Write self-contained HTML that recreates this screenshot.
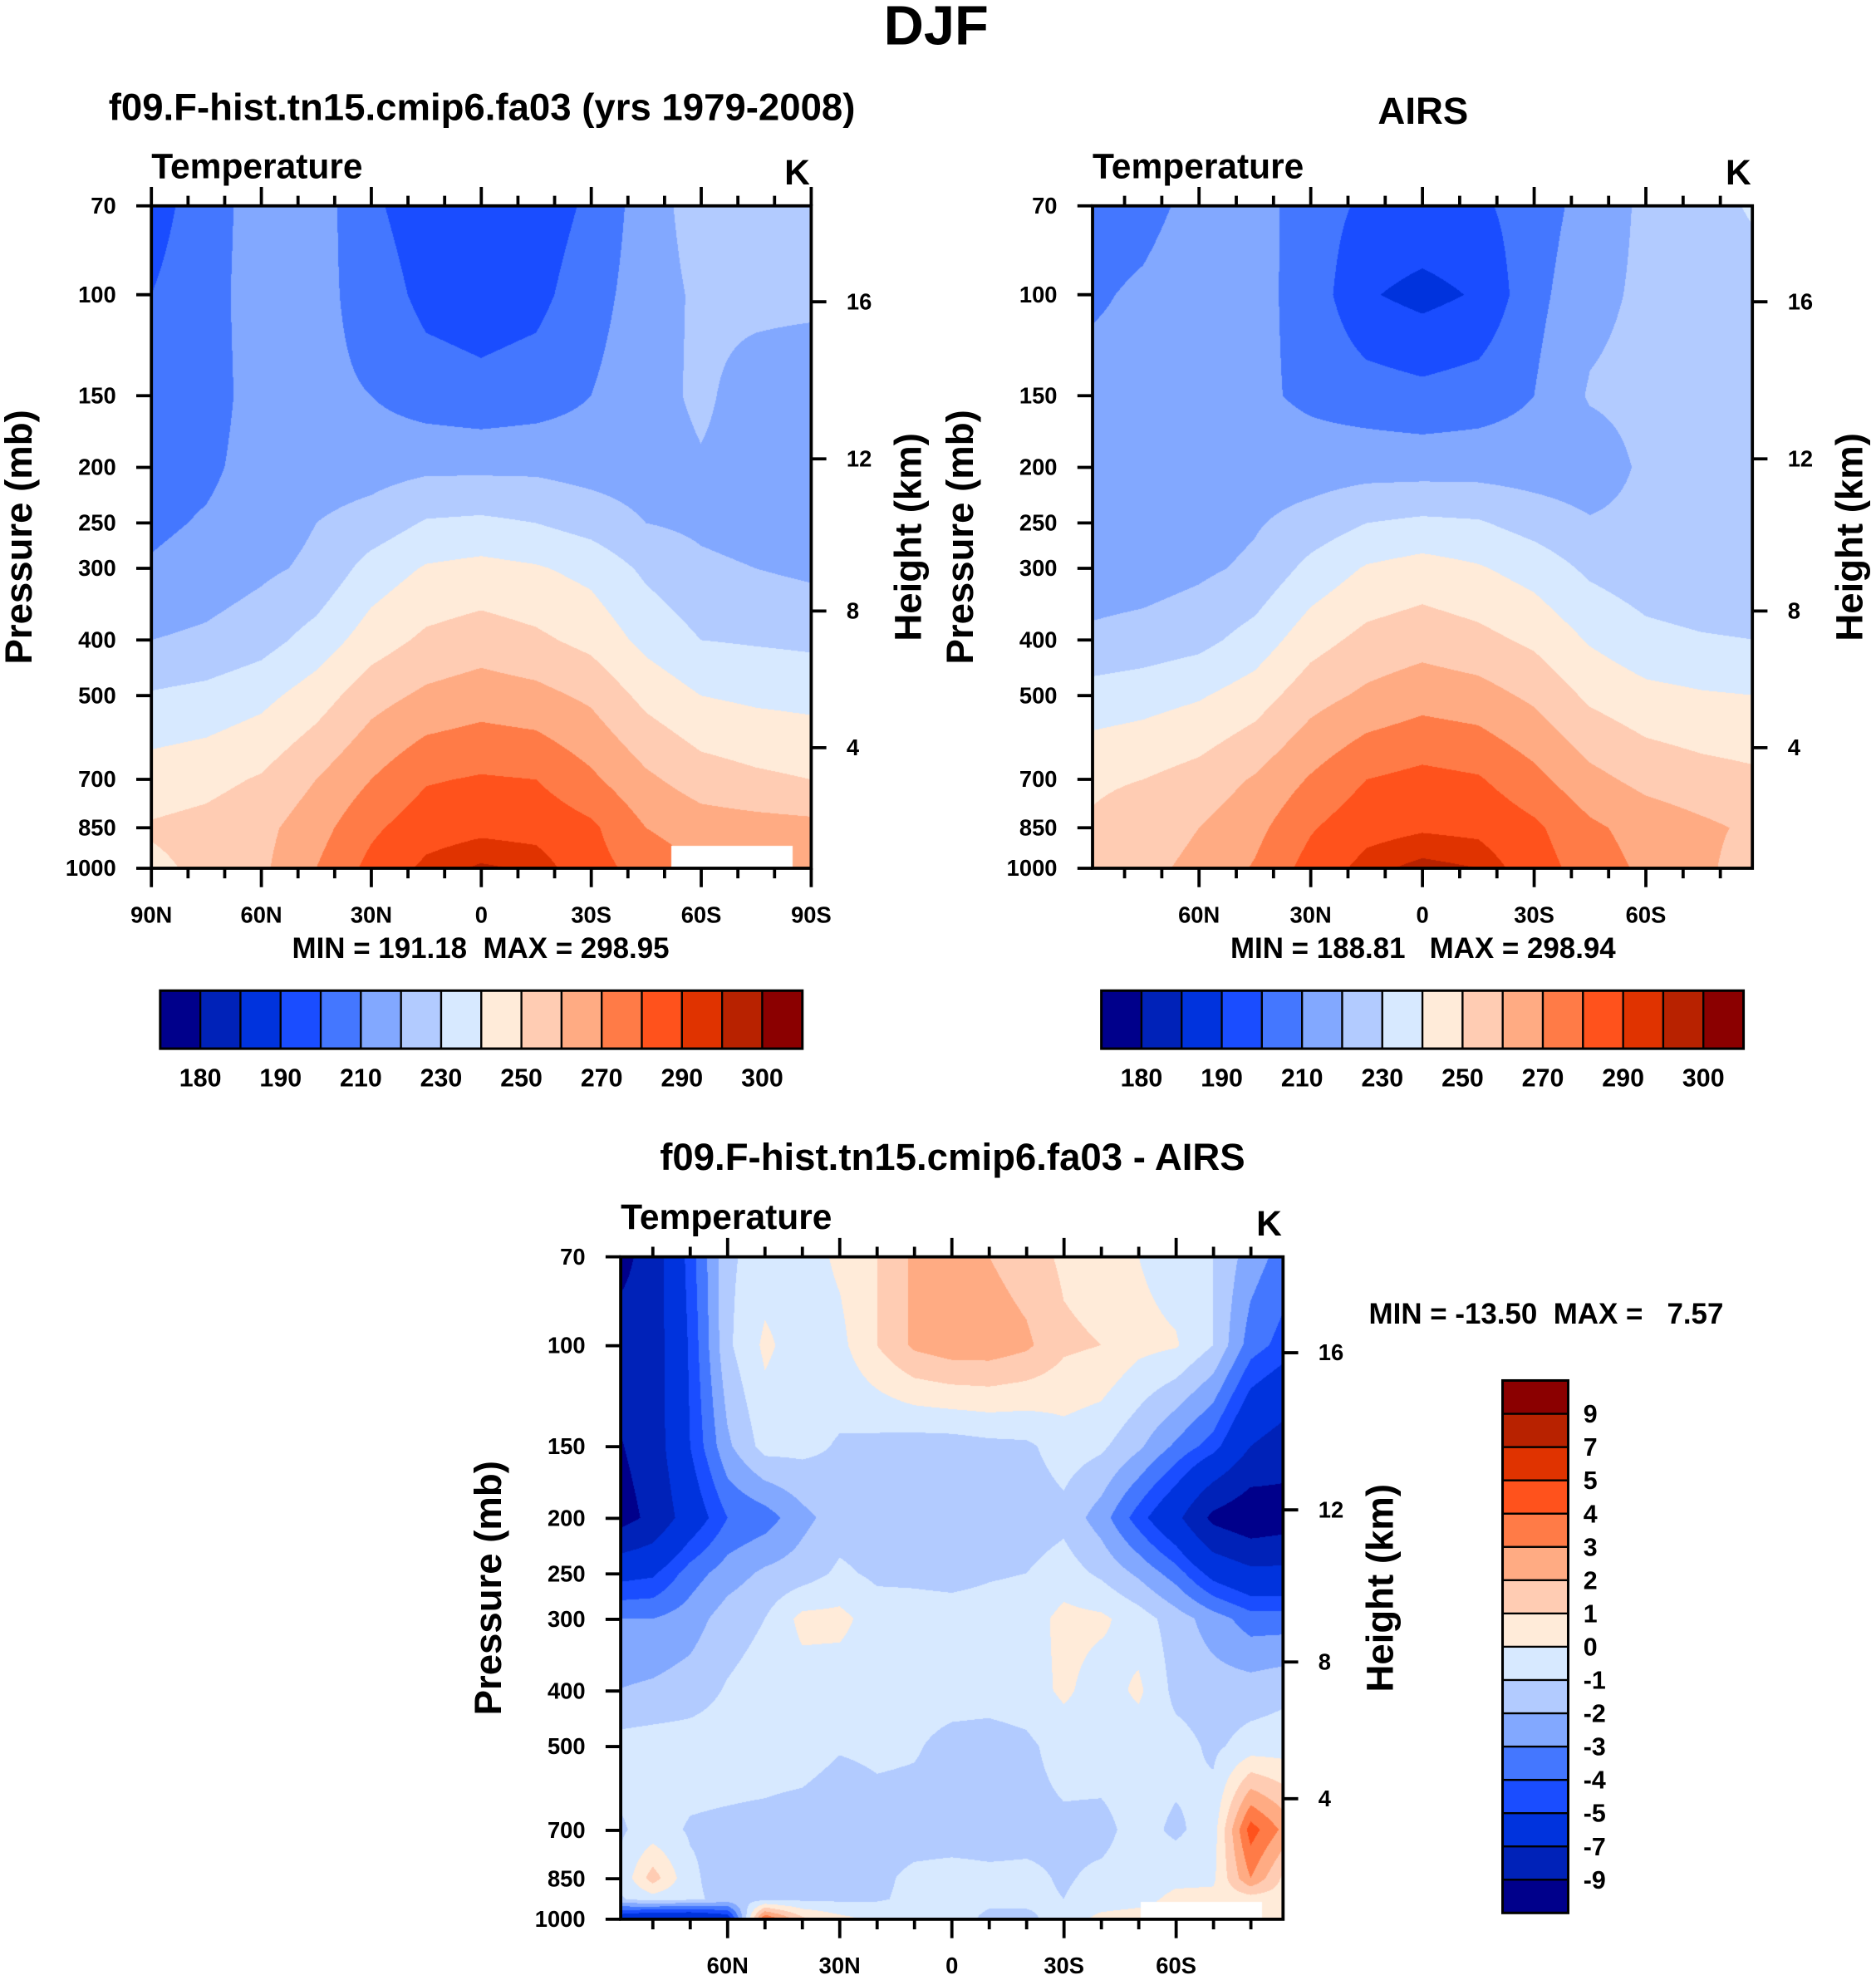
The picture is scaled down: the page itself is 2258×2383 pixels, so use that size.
<!DOCTYPE html>
<html><head><meta charset="utf-8">
<style>
html,body{margin:0;padding:0;background:#fff;}
#wrap{position:relative;width:2258px;height:2383px;overflow:hidden;background:#fff;}
canvas{position:absolute;}
svg{position:absolute;left:0;top:0;}
text{font-family:"Liberation Sans",sans-serif;font-weight:bold;fill:#000;}
</style></head>
<body>
<div id="wrap">
<canvas id="cv-model"></canvas>
<canvas id="cv-airs"></canvas>
<canvas id="cv-diff"></canvas>
<svg id="svg" width="2258" height="2383" viewBox="0 0 1487 1569">
<text x="742" y="35" font-size="44" text-anchor="middle">DJF</text>
<text x="382" y="95" font-size="30" text-anchor="middle">f09.F-hist.tn15.cmip6.fa03 (yrs 1979-2008)</text>
<text x="1128" y="98" font-size="30" text-anchor="middle">AIRS</text>
<text x="755" y="927" font-size="30" text-anchor="middle">f09.F-hist.tn15.cmip6.fa03 - AIRS</text>
<text x="381" y="759" font-size="23" text-anchor="middle" xml:space="preserve">MIN = 191.18  MAX = 298.95</text>
<text x="1128" y="759" font-size="23" text-anchor="middle" xml:space="preserve">MIN = 188.81   MAX = 298.94</text>
<text x="1085" y="1049" font-size="23" xml:space="preserve">MIN = -13.50  MAX =   7.57</text>
</svg>
</div>
<script>
// ---------- data ----------
const pLevels = [70,100,150,200,250,300,400,500,700,850,1000];
const diffPLevels = [70,100,150,200,250,300,400,500,700,850,925,1000];
const lats15 = [90,75,60,45,30,15,0,-15,-30,-45,-60,-75,-90];
const lats10 = [90,80,70,60,50,40,30,20,10,0,-10,-20,-30,-40,-50,-60,-70,-80,-90];
const absLevels = [180,185,190,200,210,220,230,240,250,260,270,280,290,295,300];
const diffLevels = [-9,-7,-5,-4,-3,-2,-1,0,1,2,3,4,5,7,9];
const absLabels = ['180','190','210','230','250','270','290','300'];
const diffLabels = ['9','7','5','4','3','2','1','0','-1','-2','-3','-4','-5','-7','-9'];
const latLabelsFull = ['90N','60N','30N','0','30S','60S','90S'];
const latMajorFull = [90,60,30,0,-30,-60,-90];
const latLabelsPart = ['60N','30N','0','30S','60S'];
const latMajorPart = [60,30,0,-30,-60];
const pLabels = ['70','100','150','200','250','300','400','500','700','850','1000'];
const heightKm = [4,8,12,16];
const missingLat = [-52,-85];
const missingP = [915,1000];
const missingLatDiff = [-50.5,-83];
const missingPDiff = [935,1000];

const modelGrid = [
[196,205,215,215,202,194,194,194,202,215,225,225,225],
[200,206,215,213,206,197,195,197,206,215,222,223,223],
[205,206,214,212,210,205,203,205,210,216,222,215,212],
[206,208,214,215,216,218,218,218,216,215,219,216,214],
[208,211,215,220,224,231,232,230,226,220,218,216,214],
[211,214,218,222,234,241,243,241,237,228,222,220,218],
[220,222,226,234,245,252,255,252,247,237,230,229,228],
[231,233,237,245,256,262,265,263,258,247,240,238,237],
[245,247,251,260,270,279,281,280,272,262,255,252,250],
[251,253,257,266,278,286,288,287,282,270,265,264,263],
[248,252,258,270,283,292,296,294,284,276,270,268,265]];

const airsGrid = [
[207,208,212,214,205,198,197,198,205,214,222,225,232],
[209,211,214,213,206,191,187,191,207,217,222,223,225],
[212,212,214,212,208,205,203,205,210,221,223,223,224],
[212,213,214,215,215,216,216,216,215,214,222,222,222],
[213,214,215,219,224,230,232,231,226,221,223,222,222],
[214,215,218,222,233,241,244,241,236,228,224,222,221],
[222,224,227,234,246,253,256,253,248,239,233,231,230],
[234,236,239,245,256,262,266,264,258,248,243,241,240],
[248,250,254,261,271,280,283,281,273,263,257,254,252],
[251,256,260,267,279,287,289,288,282,272,266,262,258],
[252,258,262,271,284,293,297,295,285,275,268,262,255]];

const diffGrid = [
[-10,-8,-4.5,-1.2,-0.5,-0.5,0.2,1.0,2.2,2.5,2.0,1.5,0.8,0.5,0,-0.5,-1,-2.5,-3.5],
[-8,-8,-4.8,-1.2,0.2,-0.5,-0.3,1.0,2.2,2.6,2.6,2.2,1.2,1.0,0.3,0.1,-1.0,-3.5,-4.5],
[-9.3,-8,-5,-2.2,-0.6,-0.7,-1.1,-1.3,-1.5,-1.5,-1.3,-1.2,-0.5,-0.8,-1.8,-3.2,-4.5,-7,-8],
[-10,-8.5,-6,-4,-3.5,-2.3,-1.5,-1.6,-1.6,-1.6,-1.6,-1.6,-1.3,-2.5,-4.5,-6.5,-9.5,-10.5,-10],
[-5.5,-5.2,-3.5,-2.5,-1.8,-1.5,-0.8,-1.2,-1.2,-1.3,-1.1,-1.0,-0.5,-1.2,-2.2,-3.5,-5.5,-6.5,-6.5],
[-3,-3,-2.5,-1.5,-1.0,0.3,0.3,-0.5,-0.6,-0.6,-0.6,-0.5,0.3,0.2,-0.5,-1.5,-2.5,-3.5,-3.5],
[-2.0,-1.8,-1.5,-0.9,-0.5,-0.5,-0.6,-0.6,-0.6,-0.6,-0.6,-0.5,0.2,-0.5,0.2,-1.3,-1.5,-1.5,-1.2],
[-0.6,-0.5,-0.5,-0.5,-0.5,-0.5,-0.9,-0.8,-0.9,-1.3,-1.4,-1.2,-0.6,-0.5,-0.6,-0.6,-1.2,-0.6,-0.5],
[-1.2,-0.6,-1.1,-1.2,-1.3,-1.5,-1.8,-1.4,-1.4,-1.4,-1.4,-1.3,-1.2,-1.3,-0.6,-1.2,-0.5,4.5,2.5],
[-1.2,1.5,-0.8,-1.5,-1.5,-1.3,-1.2,-1.2,-0.8,-0.7,-0.8,-0.8,-1.1,-0.8,-0.6,-0.3,-0.2,3,0.5],
[-1.2,-0.5,-0.8,-1.3,-1.3,-1.2,-1.2,-1.1,-0.8,-0.7,-0.8,-0.8,-1.0,-0.6,-0.4,0.3,0.3,0.5,0.5],
[-6,-7,-7,-6,4,1.2,0.3,-0.3,-0.5,-0.6,-1.2,-1.2,-0.6,0.3,0.5,0.5,0.5,0.5,0.5]];

const palette = ['#00008b','#0022b8','#0033dd','#1a4dff','#4477ff','#82a8ff','#b2cbff','#d7e9ff','#ffebd9','#ffccb3','#ffab83','#ff7b47','#ff521c','#e03300','#b82200','#8b0000'];

// ---------- geometry ----------
const S = 2258/1487;
const LOG70 = Math.log10(70), LOGR = Math.log10(1000/70);
const NS = 'http://www.w3.org/2000/svg';
const svg = document.getElementById('svg');

function yOfP(y0,h,p){ return y0 + (Math.log10(p)-LOG70)/LOGR*h; }
function xOfLat(x0,w,latMax,lat){ return x0 + (latMax-lat)/(2*latMax)*w; }
function stdAtmP(km){ const h=km*1000; return h<=11000 ? 1013.25*Math.pow(1-2.25577e-5*h,5.25588) : 226.32*Math.exp(-(h-11000)/6341.6); }
function hex(c){ return [parseInt(c.substr(1,2),16),parseInt(c.substr(3,2),16),parseInt(c.substr(5,2),16)]; }
const palRGB = palette.map(hex);

function mk(tag, attrs, parent){
  const el = document.createElementNS(NS, tag);
  for (const k in attrs) el.setAttribute(k, attrs[k]);
  (parent||svg).appendChild(el);
  return el;
}

function interp(lats, plevs, grid, lat, p){
  const n = lats.length;
  const step = (lats[0]-lats[n-1])/(n-1);
  let fi = (lats[0]-lat)/step; fi=Math.max(0,Math.min(n-1.0001,fi));
  const i=Math.floor(fi), tx=fi-i;
  const lp=Math.log10(p);
  let j=0; while(j<plevs.length-2 && Math.log10(plevs[j+1])<lp) j++;
  const a=Math.log10(plevs[j]), b=Math.log10(plevs[j+1]);
  let ty=(lp-a)/(b-a); ty=Math.max(0,Math.min(1,ty));
  const v00=grid[j][i], v01=grid[j][i+1], v10=grid[j+1][i], v11=grid[j+1][i+1];
  return (v00*(1-tx)+v01*tx)*(1-ty)+(v10*(1-tx)+v11*tx)*ty;
}

function drawField(cid, P){
  const cv=document.getElementById(cid);
  const W=Math.round(P.w*S), H=Math.round(P.h*S);
  cv.width=W; cv.height=H;
  cv.style.left=(P.x0*S)+'px'; cv.style.top=(P.y0*S)+'px';
  cv.style.width=W+'px'; cv.style.height=H+'px';
  const ctx=cv.getContext('2d');
  const img=ctx.createImageData(W,H);
  for(let py=0;py<H;py++){
    const p=Math.pow(10, LOG70 + (py+0.5)/H*LOGR);
    for(let px=0;px<W;px++){
      const lat=P.latMax-(px+0.5)/W*2*P.latMax;
      const o=(py*W+px)*4;
      if(P.miss && lat<=P.miss[0] && lat>=P.miss[1] && p>=P.missP[0]){
        img.data[o]=255;img.data[o+1]=255;img.data[o+2]=255;img.data[o+3]=255;continue;
      }
      const v=interp(P.lats,P.plevs,P.grid,lat,p);
      let k=0; while(k<P.levels.length && v>=P.levels[k]) k++;
      const c=palRGB[k];
      img.data[o]=c[0];img.data[o+1]=c[1];img.data[o+2]=c[2];img.data[o+3]=255;
    }
  }
  ctx.putImageData(img,0,0);
}

function drawAxes(P){
  const g = mk('g',{});
  
  
  const x1=P.x0+P.w, y1=P.y0+P.h;
  const fr = mk('rect',{x:P.x0,y:P.y0,width:P.w,height:P.h,fill:'none',stroke:'#000','stroke-width':2.5},g);
  
  
  pLevels.forEach((p,i)=>{
    const y=yOfP(P.y0,P.h,p);
    const t=mk('line',{x1:P.x0-12,y1:y,x2:P.x0,y2:y,stroke:'#000','stroke-width':2.5},g);
    
    
    const tx=mk('text',{x:P.x0-28,y:y+6,'font-size':18,'text-anchor':'end'},g);
    tx.textContent=pLabels[i];
    
    
  });
  heightKm.forEach(km=>{
    const y=yOfP(P.y0,P.h,stdAtmP(km));
    const t=mk('line',{x1:x1,y1:y,x2:x1+12,y2:y,stroke:'#000','stroke-width':2.5},g);
    
    
    const tx=mk('text',{x:x1+28,y:y+6,'font-size':18},g);
    tx.textContent=String(km);
    
    
  });
  for(let lat=-80;lat<=80;lat+=10){
    if(Math.abs(lat)>P.latMax) continue;
    const x=xOfLat(P.x0,P.w,P.latMax,lat);
    const major = lat%30===0;
    const L = major?15:8;
    const a=mk('line',{x1:x,y1:P.y0,x2:x,y2:P.y0-L,stroke:'#000','stroke-width':2.5},g);
    
    
    const b=mk('line',{x1:x,y1:y1,x2:x,y2:y1+L,stroke:'#000','stroke-width':2.5},g);
    
    
  }
  P.majors.forEach((lat,i)=>{
    const x=xOfLat(P.x0,P.w,P.latMax,lat);
    if(Math.abs(lat)===90){
      const a=mk('line',{x1:x,y1:P.y0,x2:x,y2:P.y0-15,stroke:'#000','stroke-width':2.5},g);
      
      
      const b=mk('line',{x1:x,y1:y1,x2:x,y2:y1+15,stroke:'#000','stroke-width':2.5},g);
      
      
    }
    const tx=mk('text',{x:x,y:y1+43,'font-size':18,'text-anchor':'middle'},g);
    tx.textContent=P.majorLabels[i];
    
    
  });
  const t1=mk('text',{x:P.x0,y:P.y0-22,'font-size':28},g);
  t1.textContent='Temperature';
  
  
  const t2=mk('text',{x:x1-1,y:P.y0-17,'font-size':28,'text-anchor':'end'},g);
  t2.textContent='K';
  
  
  const cy=P.y0+P.h/2;
  const pt=mk('text',{x:0,y:0,'font-size':30,'text-anchor':'middle',transform:'translate('+(P.x0-95)+','+cy+') rotate(-90)'},g);
  pt.textContent='Pressure (mb)';
  
  
  const ht=mk('text',{x:0,y:0,'font-size':30,'text-anchor':'middle',transform:'translate('+(x1+87)+','+cy+') rotate(-90)'},g);
  ht.textContent='Height (km)';
  
  
}

function hColorbar(x0,y0,w,h,name){
  const g=mk('g',{});
  
  
  const bw=w/palette.length;
  palette.forEach((c,i)=>{
    const r=mk('rect',{x:x0+i*bw,y:y0,width:bw,height:h,fill:c,stroke:'#000','stroke-width':1.5},g);
    
    
  });
  const fr=mk('rect',{x:x0,y:y0,width:w,height:h,fill:'none',stroke:'#000','stroke-width':2},g);
  
  
  absLabels.forEach((lab,i)=>{
    const t=mk('text',{x:x0+(2*i+1)*bw,y:y0+h+30,'font-size':20,'text-anchor':'middle'},g);
    t.textContent=lab;
    
    
  });
}

function vColorbar(x0,y0,w,h,name){
  const g=mk('g',{});
  
  
  const bh=h/palette.length;
  palette.forEach((c,i)=>{
    const r=mk('rect',{x:x0,y:y0+(palette.length-1-i)*bh,width:w,height:bh,fill:c,stroke:'#000','stroke-width':1.5},g);
    
    
  });
  const fr=mk('rect',{x:x0,y:y0,width:w,height:h,fill:'none',stroke:'#000','stroke-width':2},g);
  
  
  diffLabels.forEach((lab,i)=>{
    const t=mk('text',{x:x0+w+12,y:y0+(i+1)*bh+7,'font-size':20},g);
    t.textContent=lab;
    
    
  });
}

const panels = [
 {name:'model',cid:'cv-model',x0:120,y0:163,w:523,h:525,latMax:90,lats:lats15,plevs:pLevels,grid:modelGrid,levels:absLevels,majors:latMajorFull,majorLabels:latLabelsFull,miss:missingLat,missP:missingP},
 {name:'airs',cid:'cv-airs',x0:866,y0:163,w:523,h:525,latMax:88.6,lats:lats15,plevs:pLevels,grid:airsGrid,levels:absLevels,majors:latMajorPart,majorLabels:latLabelsPart},
 {name:'difference',cid:'cv-diff',x0:492,y0:996,w:525,h:525,latMax:88.6,lats:lats10,plevs:diffPLevels,grid:diffGrid,levels:diffLevels,majors:latMajorPart,majorLabels:latLabelsPart,miss:missingLatDiff,missP:missingPDiff}
];
panels.forEach(P=>{ drawField(P.cid,P); drawAxes(P); });
hColorbar(127,785,509,46,'model-colorbar');
hColorbar(873,785,509,46,'airs-colorbar');
vColorbar(1191,1094,52,422,'difference-colorbar');
</script>
</body></html>
